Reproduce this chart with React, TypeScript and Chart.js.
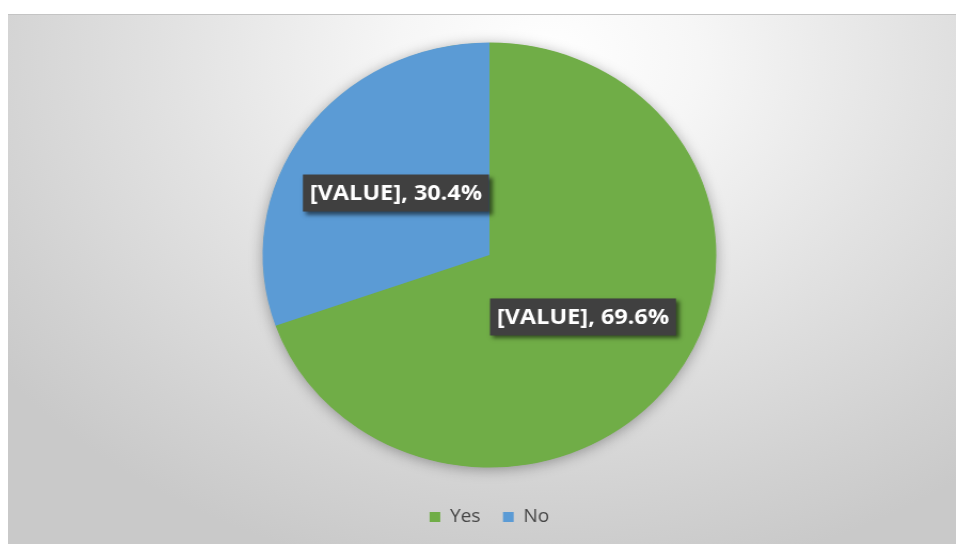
import React, { useEffect, useRef } from "react";
import { Chart, registerables } from "chart.js";

Chart.register(...registerables);

const categories: string[] = ["Yes", "No"];
const shares: number[] = [69.6, 30.4];
const sliceColors: string[] = ["#70AD47", "#5B9BD5"];
const valuePlaceholder = "[VALUE]";

const STRETCH = 1.0675;

const pieShadowPlugin = {
  id: "pieShadow",
  beforeDatasetsDraw(chart: any) {
    const meta = chart.getDatasetMeta(0);
    const arc = meta.data[0];
    if (!arc) return;
    const p = arc.getProps(["x", "y", "outerRadius"], true);
    const ctx = chart.ctx;
    ctx.save();
    ctx.shadowColor = "rgba(0,0,0,0.35)";
    ctx.shadowBlur = 14;
    ctx.shadowOffsetY = 2;
    ctx.fillStyle = "#70AD47";
    ctx.beginPath();
    ctx.arc(p.x, p.y, p.outerRadius - 0.5, 0, Math.PI * 2);
    ctx.fill();
    ctx.restore();
  },
};

const boxLabelPlugin = {
  id: "boxLabels",
  afterDatasetsDraw(chart: any) {
    const ctx = chart.ctx;
    const meta = chart.getDatasetMeta(0);
    const values: number[] = chart.data.datasets[0].data;
    const total = values.reduce((a: number, b: number) => a + b, 0);
    meta.data.forEach((arc: any, i: number) => {
      const p = arc.getProps(["x", "y", "startAngle", "endAngle", "outerRadius"], true);
      const mid = (p.startAngle + p.endAngle) / 2;
      const lx = p.x + Math.cos(mid) * p.outerRadius * 0.505;
      const ly = p.y + Math.sin(mid) * p.outerRadius * 0.505;
      const pct = ((values[i] / total) * 100).toFixed(1);
      const text = `${valuePlaceholder}, ${pct}%`;
      ctx.save();
      ctx.font = "bold 22px 'Open Sans'";
      const w = ctx.measureText(text).width + 13;
      const h = 37;
      ctx.shadowColor = "rgba(0,0,0,0.55)";
      ctx.shadowBlur = 4;
      ctx.shadowOffsetX = 3;
      ctx.shadowOffsetY = 3;
      ctx.fillStyle = "#404040";
      ctx.fillRect(lx - w / 2, ly - h / 2, w, h);
      ctx.shadowColor = "transparent";
      ctx.shadowBlur = 0;
      ctx.shadowOffsetX = 0;
      ctx.shadowOffsetY = 0;
      ctx.fillStyle = "#ffffff";
      ctx.textAlign = "center";
      ctx.textBaseline = "middle";
      ctx.fillText(text, lx, ly + 1);
      ctx.restore();
    });
  },
};

export default function App() {
  const canvasRef = useRef<HTMLCanvasElement | null>(null);

  useEffect(() => {
    if (!canvasRef.current) return;
    const chart = new Chart(canvasRef.current, {
      type: "pie",
      data: {
        labels: categories,
        datasets: [
          {
            data: shares,
            backgroundColor: sliceColors,
            borderWidth: 0,
            radius: 212.5,
          } as any,
        ],
      },
      options: {
        animation: false,
        responsive: true,
        maintainAspectRatio: false,
        layout: { padding: { top: 9, bottom: 8, left: 14, right: 0 } },
        plugins: {
          tooltip: { enabled: false },
          legend: {
            position: "bottom",
            labels: {
              boxWidth: 10,
              boxHeight: 10,
              padding: 21,
              color: "#464646",
              font: { family: "'Open Sans'", size: 18 },
            },
          },
        },
      },
      plugins: [pieShadowPlugin, boxLabelPlugin],
    });
    return () => chart.destroy();
  }, []);

  return (
    <div
      style={{
        position: "fixed",
        left: 8,
        top: 14,
        width: 948,
        height: 530,
        overflow: "hidden",
        borderTop: "1px solid #c4c4c4",
        boxSizing: "border-box",
        background:
          "radial-gradient(ellipse 72% 100% at 57% 8%, #ffffff 0%, #f6f6f6 22%, #e2e2e2 55%, #d1d1d1 85%, #c9c9c9 100%)",
      }}
    >
      <div
        style={{
          position: "absolute",
          left: 0,
          top: -1,
          width: 888,
          height: 530,
          transform: `scaleX(${STRETCH})`,
          transformOrigin: "left top",
        }}
      >
        <canvas ref={canvasRef} />
      </div>
    </div>
  );
}
